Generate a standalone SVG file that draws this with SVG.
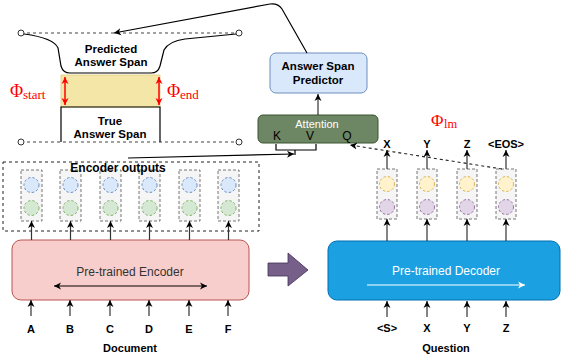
<svg xmlns="http://www.w3.org/2000/svg" width="561" height="360" viewBox="0 0 561 360">
<style>
.t{font-family:"Liberation Sans",Arial,sans-serif;}
.b{font-family:"Liberation Sans",Arial,sans-serif;font-weight:bold;}
.phi{font-family:"Liberation Serif","Times New Roman",serif;fill:#ff0000;}
.ln{stroke:#000;stroke-width:1.2;fill:none;}
.up{stroke:#333;stroke-width:1.2;fill:none;marker-end:url(#ah);}
.col{fill:#f5f5f5;stroke:#666;stroke-width:0.9;stroke-dasharray:3,2;}
.cb{fill:#dae8fc;stroke:#6c8ebf;stroke-dasharray:2.5,2;}
.cg{fill:#d5e8d4;stroke:#82b366;stroke-dasharray:2.5,2;}
.cy{fill:#fff2cc;stroke:#d6b656;stroke-dasharray:2.5,2;}
.cp{fill:#e1d5e7;stroke:#9673a6;stroke-dasharray:2.5,2;}
.dl{stroke:#444;stroke-width:1.1;stroke-dasharray:3,3;fill:none;}
.dot{fill:#fff;stroke:#333;stroke-width:1;}
</style>
<defs>
<marker id="ah" markerWidth="8" markerHeight="8" refX="7" refY="4" orient="auto" markerUnits="userSpaceOnUse">
<path d="M0,0.5 L7,4 L0,7.5 L2,4 Z" fill="#000"/>
</marker>
<marker id="ahw" markerWidth="8" markerHeight="8" refX="7" refY="4" orient="auto" markerUnits="userSpaceOnUse">
<path d="M0,0.5 L7,4 L0,7.5 L2,4 Z" fill="#fff"/>
</marker>
<marker id="ahr" markerWidth="8" markerHeight="8" refX="7" refY="4" orient="auto-start-reverse" markerUnits="userSpaceOnUse">
<path d="M0,0.5 L7,4 L0,7.5 L2,4 Z" fill="#ff0000"/>
</marker>
<marker id="ahb" markerWidth="8" markerHeight="8" refX="7" refY="4" orient="auto-start-reverse" markerUnits="userSpaceOnUse">
<path d="M0,0.5 L7,4 L0,7.5 L2,4 Z" fill="#000"/>
</marker>
</defs>
<rect width="561" height="360" fill="#fff"/>

<g id="span-diagram">
<line class="dl" x1="21" y1="33" x2="239" y2="33"/>
<line class="dl" x1="21" y1="142" x2="239" y2="142"/>
<rect x="61" y="75" width="99" height="32" fill="#f4e6a6" stroke="#e0cc80" stroke-width="0.8"/>
<path class="ln" d="M24,34 Q54,38 58,48 L61,66 Q63,73 70,73 L151,73 Q158,73 160,66 L164,50 Q169,41 185,39 L236,34"/>
<path class="ln" d="M61,142 V107 H160 V142"/>
<circle class="dot" cx="21" cy="33" r="3"/>
<circle class="dot" cx="239" cy="33" r="3"/>
<circle class="dot" cx="21" cy="142" r="3"/>
<circle class="dot" cx="239" cy="142" r="3"/>
<line x1="65" y1="77" x2="65" y2="105" stroke="#ff0000" stroke-width="1.5" marker-start="url(#ahr)" marker-end="url(#ahr)"/>
<line x1="159" y1="77" x2="159" y2="105" stroke="#ff0000" stroke-width="1.5" marker-start="url(#ahr)" marker-end="url(#ahr)"/>
<text class="b" x="111" y="53" font-size="11.5" text-anchor="middle">Predicted</text>
<text class="b" x="111" y="66" font-size="11.5" text-anchor="middle">Answer Span</text>
<text class="b" x="110" y="125" font-size="11.5" text-anchor="middle">True</text>
<text class="b" x="110" y="138" font-size="11.5" text-anchor="middle">Answer Span</text>
<text class="phi" x="10" y="97" font-size="18">Φ</text>
<text class="phi" x="23" y="99" font-size="13">start</text>
<text class="phi" x="167" y="97" font-size="18">Φ</text>
<text class="phi" x="180" y="99" font-size="13">end</text>
<text class="phi" x="431" y="126" font-size="17">Φ</text>
<text class="phi" x="444" y="128" font-size="12.5">lm</text>
</g>

<g id="answer-span-predictor">
<rect x="270" y="53" width="97" height="40" rx="6" fill="#dae8fc" stroke="#6c8ebf"/>
<text class="b" x="318" y="70" font-size="11.5" text-anchor="middle">Answer Span</text>
<text class="b" x="318" y="84" font-size="11.5" text-anchor="middle">Predictor</text>
</g>

<g id="attention">
<rect x="258" y="115" width="120" height="28" rx="5" fill="#6d8764" stroke="#3a5431"/>
<text class="t" x="317" y="128" font-size="11" fill="#fff" text-anchor="middle">Attention</text>
<text class="t" x="277" y="140" font-size="12" text-anchor="middle">K</text>
<text class="t" x="310" y="140" font-size="12" text-anchor="middle">V</text>
<text class="t" x="347" y="140" font-size="12" text-anchor="middle">Q</text>
</g>

<g id="encoder-outputs">
<rect x="3" y="162" width="256" height="69" fill="none" stroke="#222" stroke-width="1" stroke-dasharray="3,3"/>
<rect class="col" x="21" y="170" width="21" height="51"/>
<rect class="col" x="60" y="170" width="21" height="51"/>
<rect class="col" x="100" y="170" width="21" height="51"/>
<rect class="col" x="139" y="170" width="21" height="51"/>
<rect class="col" x="179" y="170" width="21" height="51"/>
<rect class="col" x="218" y="170" width="21" height="51"/>
<circle class="cb" cx="31.5" cy="185" r="7.5"/><circle class="cg" cx="31.5" cy="208" r="7.5"/>
<circle class="cb" cx="70.5" cy="185" r="7.5"/><circle class="cg" cx="70.5" cy="208" r="7.5"/>
<circle class="cb" cx="110.5" cy="185" r="7.5"/><circle class="cg" cx="110.5" cy="208" r="7.5"/>
<circle class="cb" cx="149.5" cy="185" r="7.5"/><circle class="cg" cx="149.5" cy="208" r="7.5"/>
<circle class="cb" cx="189.5" cy="185" r="7.5"/><circle class="cg" cx="189.5" cy="208" r="7.5"/>
<circle class="cb" cx="228.5" cy="185" r="7.5"/><circle class="cg" cx="228.5" cy="208" r="7.5"/>
<text class="b" x="118" y="172" font-size="12" text-anchor="middle">Encoder outputs</text>
</g>

<g id="encoder">
<rect x="12" y="240" width="237" height="60" rx="9" fill="#f8cecc" stroke="#b85450"/>
<text class="t" x="130" y="276" font-size="12" fill="#333" text-anchor="middle">Pre-trained Encoder</text>
<line x1="54" y1="286" x2="207" y2="286" stroke="#000" stroke-width="1.2" marker-start="url(#ahb)" marker-end="url(#ahb)"/>
</g>

<g id="document-tokens">
<text class="b" x="31" y="333" font-size="11" text-anchor="middle">A</text>
<text class="b" x="70" y="333" font-size="11" text-anchor="middle">B</text>
<text class="b" x="110" y="333" font-size="11" text-anchor="middle">C</text>
<text class="b" x="149" y="333" font-size="11" text-anchor="middle">D</text>
<text class="b" x="189" y="333" font-size="11" text-anchor="middle">E</text>
<text class="b" x="228" y="333" font-size="11" text-anchor="middle">F</text>
<text class="b" x="130" y="352" font-size="11" text-anchor="middle">Document</text>
</g>

<g id="transfer-arrow">
<path d="M268,263 H288 V253 L308,270 L288,286 V276 H268 Z" fill="#76608a" stroke="#432d57" stroke-width="0.8"/>
</g>

<g id="decoder">
<rect x="328" y="241" width="232" height="59" rx="9" fill="#1ba1e2" stroke="#006eaf"/>
<text class="t" x="446" y="275" font-size="12" fill="#fff" text-anchor="middle">Pre-trained Decoder</text>
<line x1="367" y1="285" x2="525" y2="285" stroke="#fff" stroke-width="1.2" marker-end="url(#ahw)"/>
</g>

<g id="decoder-outputs">
<rect class="col" x="377" y="169" width="20" height="50"/>
<rect class="col" x="417" y="169" width="20" height="50"/>
<rect class="col" x="457" y="169" width="20" height="50"/>
<rect class="col" x="496" y="169" width="20" height="50"/>
<circle class="cy" cx="387" cy="184" r="7.5"/><circle class="cp" cx="387" cy="207" r="7.5"/>
<circle class="cy" cx="427" cy="184" r="7.5"/><circle class="cp" cx="427" cy="207" r="7.5"/>
<circle class="cy" cx="467" cy="184" r="7.5"/><circle class="cp" cx="467" cy="207" r="7.5"/>
<circle class="cy" cx="506" cy="184" r="7.5"/><circle class="cp" cx="506" cy="207" r="7.5"/>
<text class="b" x="387" y="148" font-size="11" text-anchor="middle">X</text>
<text class="b" x="427" y="148" font-size="11" text-anchor="middle">Y</text>
<text class="b" x="467" y="148" font-size="11" text-anchor="middle">Z</text>
<text class="b" x="506" y="148" font-size="11" text-anchor="middle">&lt;EOS&gt;</text>
</g>

<g id="question-tokens">
<text class="b" x="387" y="332" font-size="11" text-anchor="middle">&lt;S&gt;</text>
<text class="b" x="427" y="332" font-size="11" text-anchor="middle">X</text>
<text class="b" x="467" y="332" font-size="11" text-anchor="middle">Y</text>
<text class="b" x="506" y="332" font-size="11" text-anchor="middle">Z</text>
<text class="b" x="446" y="352" font-size="11" text-anchor="middle">Question</text>
</g>

<g id="connectors">
<path class="ln" d="M307,53 L282,9 Q278,3 270,4 L114,33" marker-end="url(#ah)"/>
<line class="up" x1="318" y1="115" x2="318" y2="94"/>
<path class="ln" d="M276,144 V150 H316 V144 M295,150 V155"/>
<path class="ln" d="M128,158 L294,154" marker-end="url(#ah)"/>
<path d="M502,169 L350,145" stroke="#222" stroke-width="1.1" stroke-dasharray="3,3" fill="none" marker-end="url(#ah)"/>
<line class="up" x1="31.5" y1="240" x2="31.5" y2="221"/>
<line class="up" x1="70.5" y1="240" x2="70.5" y2="221"/>
<line class="up" x1="110.5" y1="240" x2="110.5" y2="221"/>
<line class="up" x1="149.5" y1="240" x2="149.5" y2="221"/>
<line class="up" x1="189.5" y1="240" x2="189.5" y2="221"/>
<line class="up" x1="228.5" y1="240" x2="228.5" y2="221"/>
<line class="up" x1="31" y1="316" x2="31" y2="300"/>
<line class="up" x1="70" y1="316" x2="70" y2="300"/>
<line class="up" x1="110" y1="316" x2="110" y2="300"/>
<line class="up" x1="149" y1="316" x2="149" y2="300"/>
<line class="up" x1="189" y1="316" x2="189" y2="300"/>
<line class="up" x1="228" y1="316" x2="228" y2="300"/>
<line class="up" x1="387" y1="241" x2="387" y2="219"/>
<line class="up" x1="427" y1="241" x2="427" y2="219"/>
<line class="up" x1="467" y1="241" x2="467" y2="219"/>
<line class="up" x1="506" y1="241" x2="506" y2="219"/>
<line class="up" x1="387" y1="169" x2="387" y2="150"/>
<line class="up" x1="427" y1="169" x2="427" y2="150"/>
<line class="up" x1="467" y1="169" x2="467" y2="150"/>
<line class="up" x1="506" y1="169" x2="506" y2="150"/>
<line class="up" x1="387" y1="317" x2="387" y2="301"/>
<line class="up" x1="427" y1="317" x2="427" y2="301"/>
<line class="up" x1="467" y1="317" x2="467" y2="301"/>
<line class="up" x1="506" y1="317" x2="506" y2="301"/>
</g>
</svg>
